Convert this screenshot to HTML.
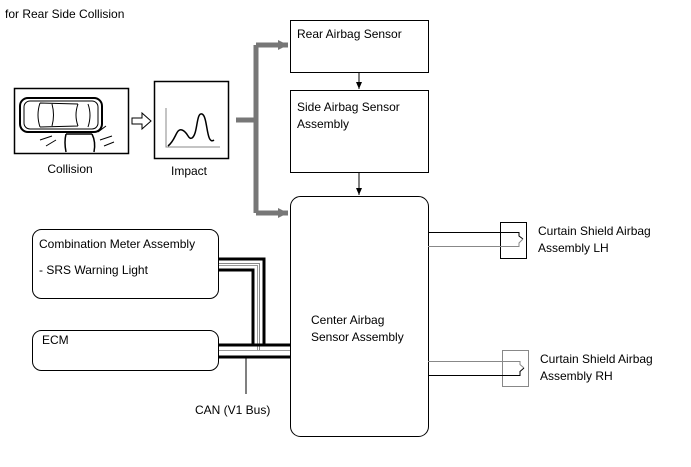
<!DOCTYPE html>
<html><head><style>body{margin:0;background:#fff}svg{display:block}text{font-family:"Liberation Sans",sans-serif;font-size:12px;fill:#000}</style></head><body>
<svg width="691" height="467" viewBox="0 0 691 467">
<defs>
<marker id="a" markerWidth="8" markerHeight="8" refX="7" refY="4" orient="auto" markerUnits="userSpaceOnUse"><path d="M0,1 L7,4 L0,7z" fill="#000"/></marker>
<marker id="g" markerWidth="12" markerHeight="12" refX="10" refY="6" orient="auto" markerUnits="userSpaceOnUse"><path d="M0,1 L10,6 L0,11z" fill="#777"/></marker>
</defs>
<text x="5" y="18">for Rear Side Collision</text>
<!-- collision -->
<rect x="14.5" y="88.5" width="114" height="65" fill="#fff" stroke="#000" stroke-width="1.5"/>
<rect x="20" y="98" width="82" height="34" rx="8" fill="none" stroke="#000" stroke-width="2"/>
<rect x="24" y="101" width="74" height="28" rx="6" fill="none" stroke="#000"/>
<path d="M40,103 Q36,115 40,127 M52,104 Q55,115 52,126 M78,104 Q74,115 78,126 M88,104 Q92,115 88,127 M40,103 L78,104 M40,127 L78,126" fill="none" stroke="#000"/>
<path d="M66,134 Q64,142 66,152 M92,134 Q96,142 94,152 M66,134 L92,134" fill="none" stroke="#000" stroke-width="1.5"/>
<path d="M40,140 L52,136 M46,146 L56,140 M100,140 L112,136 M104,146 L114,142 M98,132 L106,126" stroke="#000"/>
<text x="70" y="173" text-anchor="middle">Collision</text>
<path d="M132,118 h10 v-5 l9,8 l-9,8 v-5 h-10z" fill="#fff" stroke="#000"/>
<!-- impact -->
<rect x="154.5" y="81.5" width="74" height="77" fill="#fff" stroke="#000" stroke-width="1.5"/>
<path d="M166,108 V147 H220" fill="none" stroke="#888"/>
<path d="M168,146 C176,140 176,128 182,130 C188,132 188,140 192,138 C198,134 196,112 202,114 C208,116 206,146 214,140" fill="none" stroke="#000" stroke-width="1.5"/>
<text x="189" y="175" text-anchor="middle">Impact</text>
<!-- gray bus -->
<path d="M236,120 H256 M256,45 V213" stroke="#777" stroke-width="5" fill="none"/>
<path d="M256,45 H288" stroke="#777" stroke-width="5" marker-end="url(#g)"/>
<path d="M256,213 H288" stroke="#777" stroke-width="5" marker-end="url(#g)"/>
<!-- sensors -->
<rect x="290.5" y="20.5" width="138" height="52" fill="#fff" stroke="#000"/>
<text x="297" y="38">Rear Airbag Sensor</text>
<rect x="290.5" y="90.5" width="138" height="82" fill="#fff" stroke="#000"/>
<text x="297" y="111">Side Airbag Sensor</text>
<text x="297" y="128">Assembly</text>
<line x1="359" y1="72" x2="359" y2="89" stroke="#000" marker-end="url(#a)"/>
<line x1="359" y1="173" x2="359" y2="195" stroke="#000" marker-end="url(#a)"/>
<rect x="290.5" y="196.5" width="138" height="240" rx="10" fill="#fff" stroke="#000"/>
<text x="311" y="324">Center Airbag</text>
<text x="311" y="341">Sensor Assembly</text>
<!-- left boxes -->
<rect x="32.5" y="229.5" width="186" height="69" rx="9" fill="#fff" stroke="#000"/>
<text x="39" y="248">Combination Meter Assembly</text>
<text x="39" y="274">- SRS Warning Light</text>
<rect x="32.5" y="330.5" width="186" height="40" rx="9" fill="#fff" stroke="#000"/>
<text x="42" y="344">ECM</text>
<!-- bus wires -->
<path d="M219,259 H264 V345 H290" fill="none" stroke="#000" stroke-width="3"/>
<path d="M219,263.5 H259.5 V350" fill="none" stroke="#888" stroke-width="1"/>
<path d="M219,265.5 H257.5 V350" fill="none" stroke="#999" stroke-width="1"/>
<path d="M219,270 H253 V345" fill="none" stroke="#000" stroke-width="3"/>
<path d="M219,345 H290" stroke="#000" stroke-width="3"/>
<path d="M219,350.5 H290" stroke="#999" stroke-width="1"/>
<path d="M219,357 H290" stroke="#000" stroke-width="3"/>
<line x1="246" y1="358" x2="246" y2="394" stroke="#000"/>
<text x="195" y="414">CAN (V1 Bus)</text>
<!-- curtain LH -->
<rect x="500.5" y="222.5" width="26" height="36" fill="#fff" stroke="#000"/>
<path d="M428,232.5 H519 V236 L523,239" fill="none" stroke="#000"/>
<path d="M428,246.5 H519 V243 L523,239" fill="none" stroke="#888"/>
<text x="538" y="235">Curtain Shield Airbag</text>
<text x="538" y="252">Assembly LH</text>
<!-- curtain RH -->
<rect x="502.5" y="350.5" width="26" height="36" fill="#fff" stroke="#888"/>
<path d="M428,361.5 H520 V364.5 L524,368" fill="none" stroke="#888"/>
<path d="M428,375.5 H520 V371.5 L524,368" fill="none" stroke="#000"/>
<text x="540" y="363">Curtain Shield Airbag</text>
<text x="540" y="380">Assembly RH</text>
</svg>
</body></html>
